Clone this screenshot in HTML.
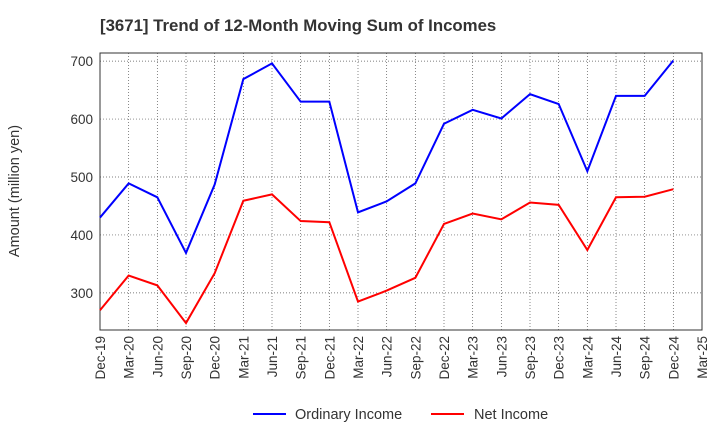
<!DOCTYPE html>
<html><head><meta charset="utf-8"><style>
body{margin:0;background:#fff;font-family:"Liberation Sans",sans-serif;}
</style></head><body>
<svg id="c" width="720" height="440" xmlns="http://www.w3.org/2000/svg">
<text x="100" y="31" font-size="16.8" font-weight="bold" fill="#333">[3671]  Trend of 12-Month Moving Sum of Incomes</text>
<text transform="translate(19,191) rotate(-90)" text-anchor="middle" font-size="14.5" fill="#333">Amount (million yen)</text>
<g id="grid"></g><g id="axes"></g><g id="series"></g>
<g>
<line x1="253" y1="414" x2="286" y2="414" stroke="#0000ff" stroke-width="2"/>
<text x="295" y="419" font-size="14.5" fill="#333">Ordinary Income</text>
<line x1="431" y1="414" x2="464" y2="414" stroke="#ff0000" stroke-width="2"/>
<text x="474" y="419" font-size="14.5" fill="#333">Net Income</text>
</g>
</svg>
<script>
const categories=["Dec-19","Mar-20","Jun-20","Sep-20","Dec-20","Mar-21","Jun-21","Sep-21","Dec-21","Mar-22","Jun-22","Sep-22","Dec-22","Mar-23","Jun-23","Sep-23","Dec-23","Mar-24","Jun-24","Sep-24","Dec-24","Mar-25"];
const ordinaryIncome=[430,489,465,369,487,669,696,630,630,439,458,489,592,616,601,643,626,510,640,640,701];
const netIncome=[270,330,313,248,334,459,470,424,422,285,304,326,419,437,427,456,452,374,465,466,479];
const yTicks=[300,400,500,600,700];
const L=100,R=702,T=53,B=330,ymin=236,ymax=714;
const ns="http://www.w3.org/2000/svg";
function x(i){return L+i*(R-L)/(categories.length-1);}
function y(v){return B-(v-ymin)/(ymax-ymin)*(B-T);}
function mk(tag,attrs,parent){const e=document.createElementNS(ns,tag);for(const k in attrs)e.setAttribute(k,attrs[k]);document.getElementById(parent).appendChild(e);return e;}
categories.forEach((c,i)=>{
 const g=mk('line',{x1:x(i),x2:x(i),y1:T,y2:B,stroke:'#555','stroke-width':0.7,'stroke-dasharray':'1,2'},'grid');
 
 
 const t=mk('text',{transform:`translate(${x(i)+5},${B+6}) rotate(-90)`,'text-anchor':'end','font-size':13.5,fill:'#333'},'axes');
 t.textContent=c;
 
 
});
yTicks.forEach(v=>{
 const g=mk('line',{x1:L,x2:R,y1:y(v),y2:y(v),stroke:'#555','stroke-width':0.7,'stroke-dasharray':'1,2'},'grid');
 
 
 const t=mk('text',{x:L-7,y:y(v)+5,'text-anchor':'end','font-size':13.5,fill:'#333'},'axes');
 t.textContent=v;
 
 
});
const fr=mk('rect',{x:L,y:T,width:R-L,height:B-T,fill:'none',stroke:'#333','stroke-width':1},'axes');


[[ordinaryIncome,'#0000ff','ordinary-income-line'],[netIncome,'#ff0000','net-income-line']].forEach(([d,col,n])=>{
 const p=mk('polyline',{points:d.map((v,i)=>x(i)+','+y(v)).join(' '),fill:'none',stroke:col,'stroke-width':2},'series');
 
 
});
</script>
</body></html>
